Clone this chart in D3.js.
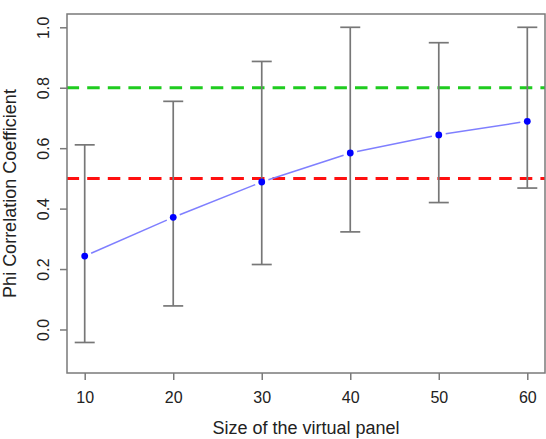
<!DOCTYPE html>
<html>
<head>
<meta charset="utf-8">
<script src="https://cdn.jsdelivr.net/npm/d3@7"></script>
<style>
  html, body { margin: 0; padding: 0; background: #fff; }
  svg { display: block; }
</style>
</head>
<body>
<script>
// Panel sizes and the phi correlation at each size, with interval bounds
const panelSize = [10, 20, 30, 40, 50, 60];
const phiMean   = [0.243, 0.371, 0.488, 0.584, 0.644, 0.689];
const phiLower  = [-0.043, 0.078, 0.215, 0.323, 0.420, 0.468];
const phiUpper  = [0.611, 0.755, 0.887, 1.000, 0.949, 1.000];
const xTicks    = [10, 20, 30, 40, 50, 60];
const yTicks    = [0.0, 0.2, 0.4, 0.6, 0.8, 1.0];
const refLines  = [{ value: 0.8, color: "#1fcc1f" }, { value: 0.5, color: "#ff1010" }];

const W = 546, H = 439;
const plotLeft = 67, plotRight = 545, plotTop = 14, plotBottom = 373;

const svg = d3.select("body").append("svg")
  .attr("width", W).attr("height", H)
  .style("font-family", "'Liberation Sans', Arial, sans-serif");

// axis ranges padded by 4% like base graphics
const x = d3.scaleLinear().domain([8, 62]).range([plotLeft, plotRight]);
const y = d3.scaleLinear().domain([-0.144, 1.044]).range([plotBottom, plotTop]);

svg.append("defs").append("clipPath").attr("id", "plotClip")
  .append("rect").attr("x", plotLeft).attr("y", plotTop)
  .attr("width", plotRight - plotLeft).attr("height", plotBottom - plotTop);

const plot = svg.append("g").attr("clip-path", "url(#plotClip)");

// dashed threshold lines
refLines.forEach(r => {
  plot.append("line")
    .attr("x1", 46).attr("x2", plotRight + 10)
    .attr("y1", y(r.value)).attr("y2", y(r.value))
    .attr("stroke", r.color).attr("stroke-width", 3)
    .attr("stroke-dasharray", "12.5,8.1");
});

// error bars
const capHalf = 10;
const errColor = "#777777";
panelSize.forEach((s, i) => {
  const g = plot.append("g").attr("stroke", errColor).attr("stroke-width", 1.7);
  g.append("line").attr("x1", x(s)).attr("x2", x(s))
    .attr("y1", y(phiLower[i])).attr("y2", y(phiUpper[i]));
  g.append("line").attr("x1", x(s) - capHalf).attr("x2", x(s) + capHalf)
    .attr("y1", y(phiUpper[i])).attr("y2", y(phiUpper[i]));
  g.append("line").attr("x1", x(s) - capHalf).attr("x2", x(s) + capHalf)
    .attr("y1", y(phiLower[i])).attr("y2", y(phiLower[i]));
});

// connecting segments, stopping short of each point
const gap = 7;
for (let i = 0; i < panelSize.length - 1; i++) {
  const x0 = x(panelSize[i]), y0 = y(phiMean[i]);
  const x1 = x(panelSize[i + 1]), y1 = y(phiMean[i + 1]);
  const len = Math.hypot(x1 - x0, y1 - y0);
  const ux = (x1 - x0) / len, uy = (y1 - y0) / len;
  plot.append("line")
    .attr("x1", x0 + ux * gap).attr("y1", y0 + uy * gap)
    .attr("x2", x1 - ux * gap).attr("y2", y1 - uy * gap)
    .attr("stroke", "#7f7fff").attr("stroke-width", 1.5);
}

// points
plot.selectAll("circle.pt").data(panelSize).enter().append("circle")
  .attr("class", "pt")
  .attr("cx", d => x(d))
  .attr("cy", (d, i) => y(phiMean[i]))
  .attr("r", 3.4)
  .attr("fill", "#0000ff");

// box
svg.append("rect")
  .attr("x", plotLeft).attr("y", plotTop)
  .attr("width", plotRight - plotLeft).attr("height", plotBottom - plotTop)
  .attr("fill", "none").attr("stroke", "#7a7a7a").attr("stroke-width", 1.5);

// x axis
const xAxis = svg.append("g")
  .attr("transform", `translate(0,${plotBottom})`)
  .call(d3.axisBottom(x).tickValues(xTicks).tickSize(7).tickSizeOuter(0)
    .tickFormat(d3.format("d")));
xAxis.select(".domain").remove();
xAxis.selectAll(".tick line").attr("stroke", "#7a7a7a").attr("stroke-width", 1.5);
xAxis.selectAll(".tick text")
  .attr("y", 30).attr("dy", 0)
  .attr("fill", "#222").style("font-size", "16px")
  .style("font-family", "'Liberation Sans', Arial, sans-serif");

// y axis with labels turned parallel to the axis
const yAxis = svg.append("g")
  .attr("transform", `translate(${plotLeft},0)`)
  .call(d3.axisLeft(y).tickValues(yTicks).tickSize(7).tickSizeOuter(0)
    .tickFormat(d3.format(".1f")));
yAxis.select(".domain").remove();
yAxis.selectAll(".tick line").attr("stroke", "#7a7a7a").attr("stroke-width", 1.5);
yAxis.selectAll(".tick text")
  .attr("transform", "rotate(-90)")
  .attr("x", 0).attr("y", -18).attr("dy", 0)
  .attr("text-anchor", "middle")
  .attr("fill", "#222").style("font-size", "16px")
  .style("font-family", "'Liberation Sans', Arial, sans-serif");

// axis titles
svg.append("text")
  .attr("x", (plotLeft + plotRight) / 2).attr("y", 434)
  .attr("text-anchor", "middle")
  .attr("fill", "#222").style("font-size", "18px")
  .text("Size of the virtual panel");

svg.append("text")
  .attr("transform", `translate(16,${(plotTop + plotBottom) / 2}) rotate(-90)`)
  .attr("text-anchor", "middle")
  .attr("fill", "#222").style("font-size", "18px")
  .text("Phi Correlation Coefficient");
</script>
</body>
</html>
